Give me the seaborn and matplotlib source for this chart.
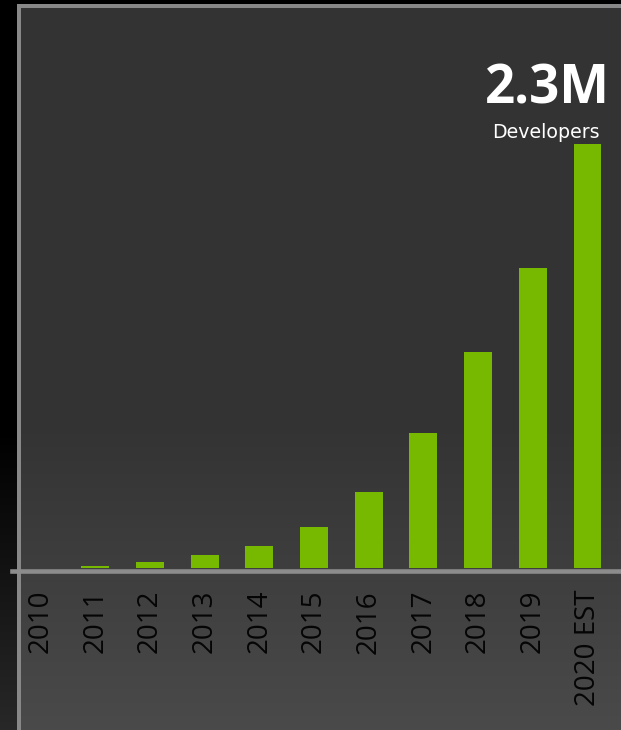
import numpy as np
import pandas as pd
import matplotlib
matplotlib.use("Agg")
import matplotlib.pyplot as plt
import seaborn as sns

# ---- data (millions of developers) ----
years = ["2010", "2011", "2012", "2013", "2014", "2015", "2016",
         "2017", "2018", "2019", "2020 EST"]
developers_m = [0.0, 0.01, 0.034, 0.07, 0.118, 0.22, 0.41, 0.73, 1.17, 1.63, 2.30]
headline = "2.3M"
headline_sub = "Developers"

df = pd.DataFrame({"year": years, "developers": developers_m})

sns.set_theme(style="white")
plt.rcParams["font.family"] = ["Open Sans", "DejaVu Sans"]

W, H = 621, 730
fig = plt.figure(figsize=(W / 100, H / 100), dpi=100, facecolor="black")

# ---- background: dark slide with lighter-bordered panel ----
bg = np.zeros((H, W, 3), dtype=float)
rows = np.arange(H)
panel = np.where(rows < 420, 0x33, 0x33 + (0x4a - 0x33) * (rows - 420) / (H - 1 - 420))
bg[:, :, :] = (panel / 255.0)[:, None, None]
strip = np.where(rows < 430, 0.0, 0x28 * (rows - 430) / (H - 1 - 430))
bg[:, :17, :] = (strip / 255.0)[:, None, None]
bg[:4, :, :] = 0.0
border = 0x88 / 255.0
bg[4:, 17:21, :] = border
bg[4:8, 17:, :] = border
fig.figimage(bg, xo=0, yo=0, origin="upper", zorder=0)

# ---- bar axes ----
ax_left_px, ax_right_px = 12, 621
ax_bottom_px, ax_top_px = 570.5, 6
ax = fig.add_axes([ax_left_px / W, (H - ax_bottom_px) / H,
                   (ax_right_px - ax_left_px) / W, (ax_bottom_px - ax_top_px) / H])
ax.set_zorder(2)
ax.patch.set_alpha(0)

sns.barplot(data=df, x="year", y="developers", color="#76b900", saturation=1,
            width=0.51, linewidth=0, ax=ax)

ax.set_xlim(-0.521, 10.612)
px_per_unit = 184.35
ax.set_ylim(-2.5 / px_per_unit, (568 - ax_top_px) / px_per_unit)

for side in ["left", "right", "top"]:
    ax.spines[side].set_visible(False)
ax.spines["bottom"].set_color("#8c8c8c")
ax.spines["bottom"].set_linewidth(3.3)
ax.set_yticks([])
ax.set_xlabel("")
ax.set_ylabel("")
ax.tick_params(axis="x", length=0, pad=14, labelsize=20, labelcolor="#050505",
               rotation=90)
for lbl in ax.get_xticklabels():
    lbl.set_fontfamily(["Open Sans", "DejaVu Sans"])

# ---- headline ----
fig.text(547 / W, (H - 104) / H, headline, ha="center", va="baseline",
         fontsize=38, fontweight="bold", color="white",
         family=["Open Sans", "DejaVu Sans"], zorder=3)
fig.text(546 / W, (H - 138) / H, headline_sub, ha="center", va="baseline",
         fontsize=13.7, color="white", family=["DejaVu Sans"], zorder=3)

fig.savefig("out.png", dpi=100, facecolor="black")
